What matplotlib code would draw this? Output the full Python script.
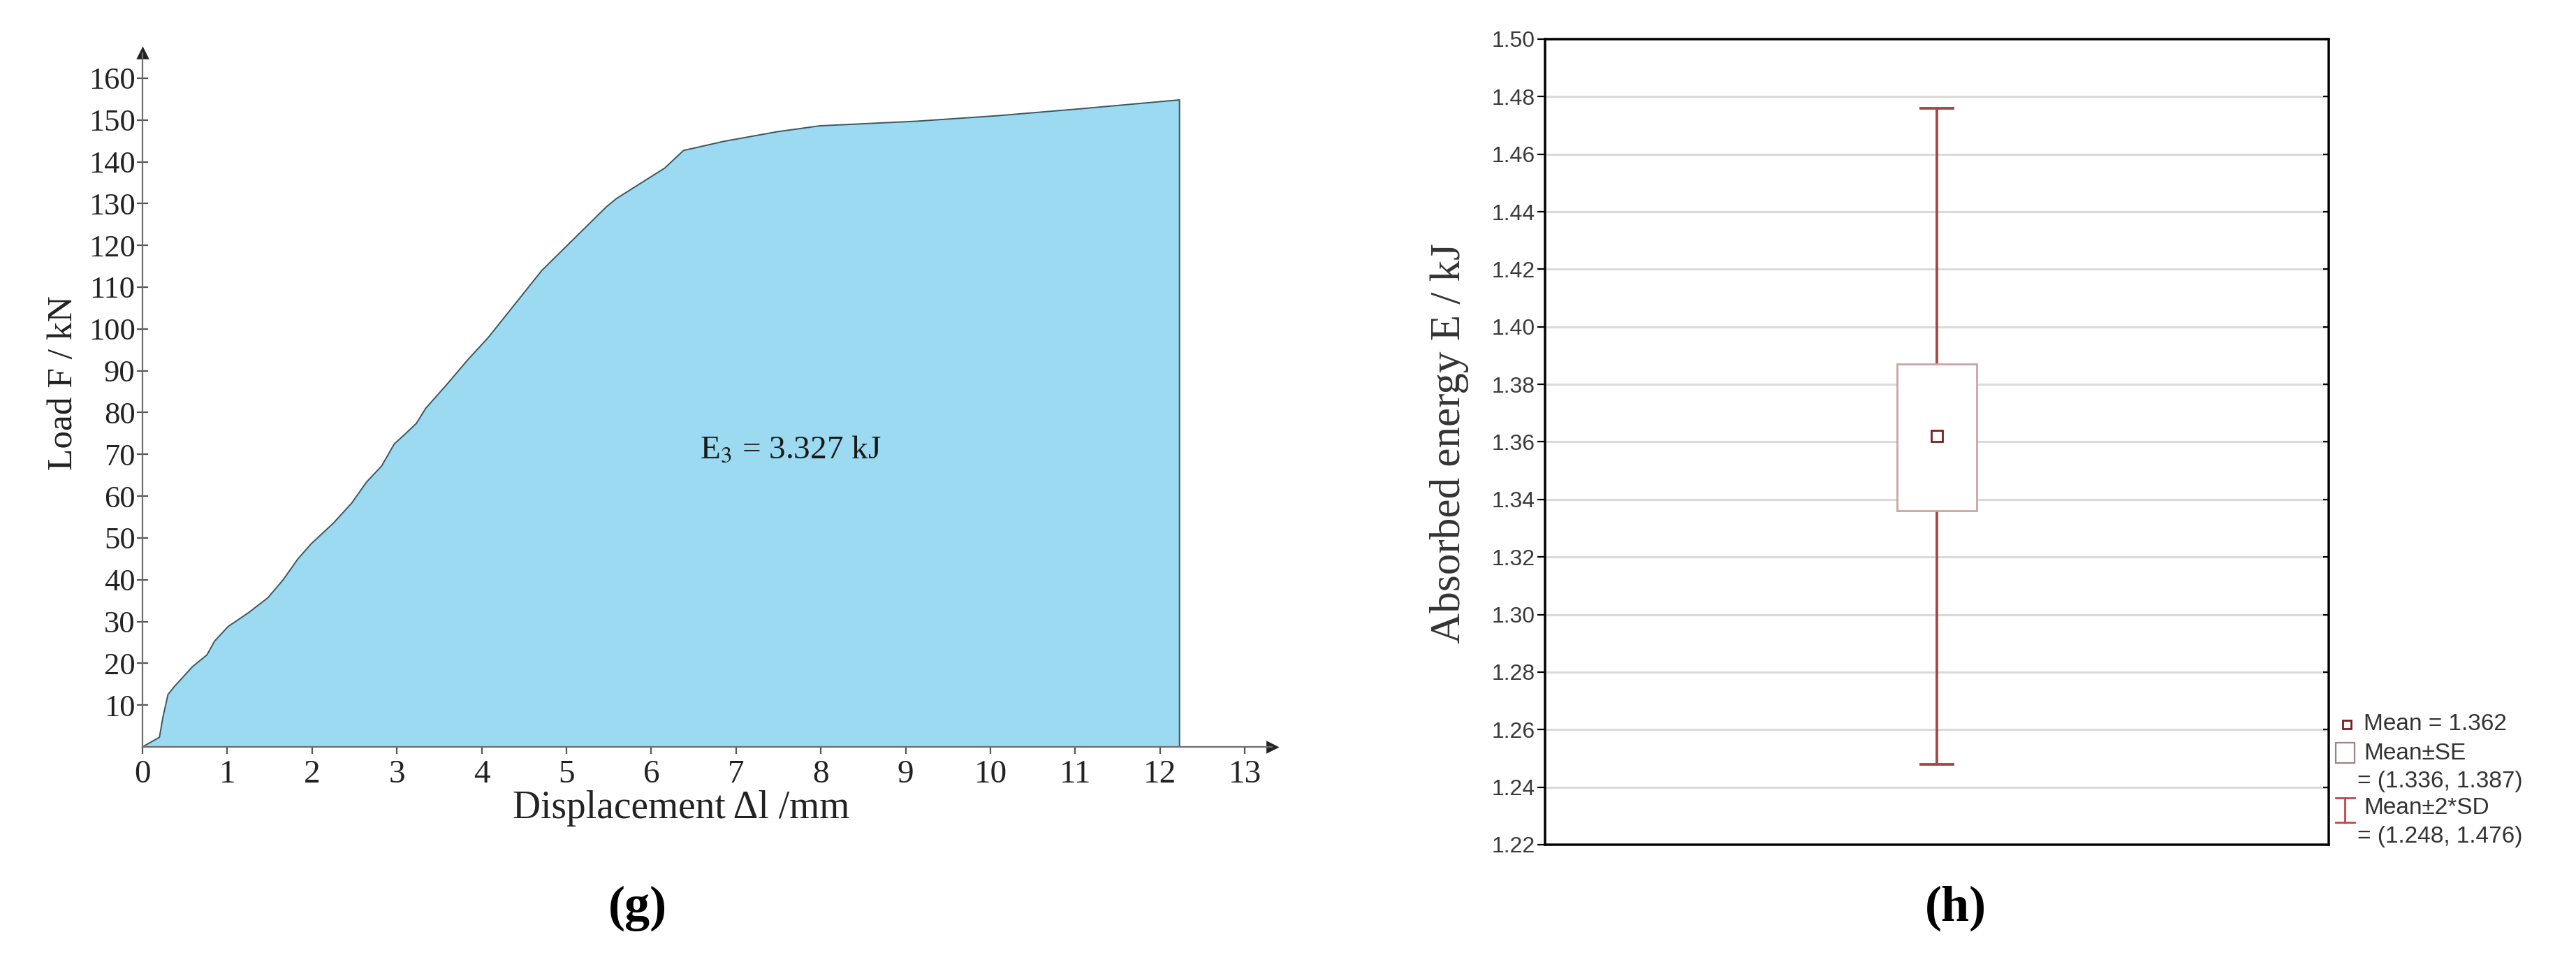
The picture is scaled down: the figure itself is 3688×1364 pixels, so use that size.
import numpy as np
import matplotlib
matplotlib.use("Agg")
import matplotlib.pyplot as plt
from matplotlib.patches import Rectangle

plt.rcParams['font.family'] = ['Liberation Serif', 'DejaVu Serif']
plt.rcParams['mathtext.fontset'] = 'stix'

# (g) load - displacement curve
disp = [0, 0.20, 0.24, 0.30, 0.37, 0.59, 0.76, 0.85, 1.01, 1.25, 1.48, 1.66,
        1.83, 1.99, 2.25, 2.47, 2.64, 2.82, 2.97, 3.10, 3.23, 3.34, 3.58, 3.84,
        4.08, 4.71, 5.47, 5.59, 6.16, 6.38, 6.86, 7.49, 7.99, 9.13, 10.07,
        11.02, 12.23]
load = [0, 2.3, 7.0, 12.5, 14.3, 19.2, 22.0, 25.3, 28.8, 32.1, 35.7, 40.0,
        44.9, 48.6, 53.5, 58.4, 63.3, 67.2, 72.5, 74.9, 77.4, 81.0, 86.5, 92.7,
        98.0, 114.0, 129.2, 131.2, 138.5, 142.7, 144.9, 147.2, 148.6, 149.7,
        151.0, 152.6, 154.8]
energy_label = r'E$_3$ = 3.327 kJ'
x_ticks = list(range(0, 14))
y_ticks = list(range(10, 170, 10))

# (h) absorbed energy stats
mean = 1.362
se_low, se_high = 1.336, 1.387
sd_low, sd_high = 1.248, 1.476
e_ticks = np.round(np.arange(1.22, 1.501, 0.02), 2)

fig = plt.figure(figsize=(18.44, 6.82), dpi=200)

# ---------- left panel ----------
ax = fig.add_axes([0.05531, 0.21628, 0.43845, 0.72801])
ax.set_xlim(0, 13.32)
ax.set_ylim(0, 166)
ax.fill_between(disp, load, color='#9bdaf0', lw=0)
ax.plot(disp + [disp[-1]], load + [0], color='#3a5560', lw=0.7)

for s in ['top', 'right']:
    ax.spines[s].set_visible(False)
for s in ['left', 'bottom']:
    ax.spines[s].set_color('#6e6e6e')
    ax.spines[s].set_linewidth(0.8)
ax.plot(1, 0, '>', color='#222222', ms=5, transform=ax.transAxes, clip_on=False)
ax.plot(0, 1, '^', color='#222222', ms=5, transform=ax.transAxes, clip_on=False)

ax.set_xticks(x_ticks)
ax.set_yticks(y_ticks)
ax.tick_params(axis='y', direction='inout', length=5.5, width=0.8, color='#555555',
               labelsize=16, labelcolor='#222222', pad=1)
ax.tick_params(axis='x', direction='out', length=3.5, width=0.8, color='#555555',
               labelsize=17, labelcolor='#222222', pad=3)
ax.text(7.64, 70.9, energy_label, fontsize=17, color='#1a1a1a', ha='center', va='center')

fig.text(0.0247, 0.598, 'Load F / kN', rotation=90, fontsize=18.5, color='#222222',
         ha='center', va='center')
fig.text(0.2644, 0.1517, 'Displacement Δl /mm', fontsize=20, color='#222222',
         ha='center', va='center')
fig.text(0.2476, 0.0469, '(g)', fontsize=26, fontweight='bold', ha='center', va='center')

# ---------- right panel ----------
ax2 = fig.add_axes([0.59978, 0.11364, 0.30423, 0.84531])
ax2.set_xlim(0, 1)
ax2.set_ylim(1.22, 1.50)
ax2.set_yticks(e_ticks)
ax2.set_yticklabels(['%.2f' % t for t in e_ticks], family='Liberation Sans')
ax2.set_xticks([])
ax2.yaxis.grid(True, color='#dadada', lw=1.1)
ax2.set_axisbelow(True)
for s in ax2.spines.values():
    s.set_color('#222222')
    s.set_linewidth(1.3)
ax2.tick_params(axis='y', direction='out', length=4, width=0.8, labelsize=11.5,
                labelcolor='#3a3a3a', pad=1)

# small inward ticks on the right frame
axr = ax2.twinx()
axr.set_ylim(ax2.get_ylim())
axr.set_yticks(e_ticks)
axr.tick_params(axis='y', direction='in', length=3, width=0.8, labelright=False)

wc = '#a04a4c'
ax2.vlines(0.5, sd_low, sd_high, color=wc, lw=1.4, zorder=2)
ax2.hlines([sd_low, sd_high], 0.5 - 0.0223, 0.5 + 0.0223, color=wc, lw=1.4, zorder=2)
ax2.add_patch(Rectangle((0.5 - 0.0508, se_low), 0.1016, se_high - se_low,
                        facecolor='white', edgecolor='#c9a5a5', lw=1.0, zorder=3))
ax2.plot(0.5, mean, 's', ms=5.5, mfc='white', mec='#7a1f1f', mew=1.0, zorder=4)

fig.text(0.5626, 0.5345, 'Absorbed energy E / kJ', rotation=90, fontsize=22,
         color='#333333', ha='center', va='center')

# legend drawn by hand, Statistica style
lk = dict(transform=ax2.transAxes, clip_on=False)
tk = dict(transform=ax2.transAxes, fontsize=12, color='#333333', va='center',
          family='Liberation Sans')
ax2.plot(1.0232, 0.1492, 's', ms=4.5, mfc='white', mec='#7a1f1f', mew=1.0, **lk)
ax2.text(1.0446, 0.1492, 'Mean = %.3f' % mean, **tk)
ax2.add_patch(Rectangle((1.0089, 0.1015), 0.0241, 0.0252, facecolor='white',
                        edgecolor='#a08080', lw=0.8, **lk))
ax2.text(1.0446, 0.1136, 'Mean±SE', **tk)
ax2.text(1.0365, 0.0789, '= (%.3f, %.3f)' % (se_low, se_high), **tk)
ax2.plot([1.0209, 1.0209], [0.0278, 0.0581], color='#c04848', lw=1.0, **lk)
ax2.plot([1.0089, 1.033], [0.0278, 0.0278], color='#c04848', lw=1.0, **lk)
ax2.plot([1.0089, 1.033], [0.0581, 0.0581], color='#c04848', lw=1.0, **lk)
ax2.text(1.0446, 0.0451, 'Mean±2*SD', **tk)
ax2.text(1.0365, 0.0104, '= (%.3f, %.3f)' % (sd_low, sd_high), **tk)

fig.text(0.7592, 0.0469, '(h)', fontsize=26, fontweight='bold', ha='center', va='center')

fig.savefig('out.png', dpi=200)
